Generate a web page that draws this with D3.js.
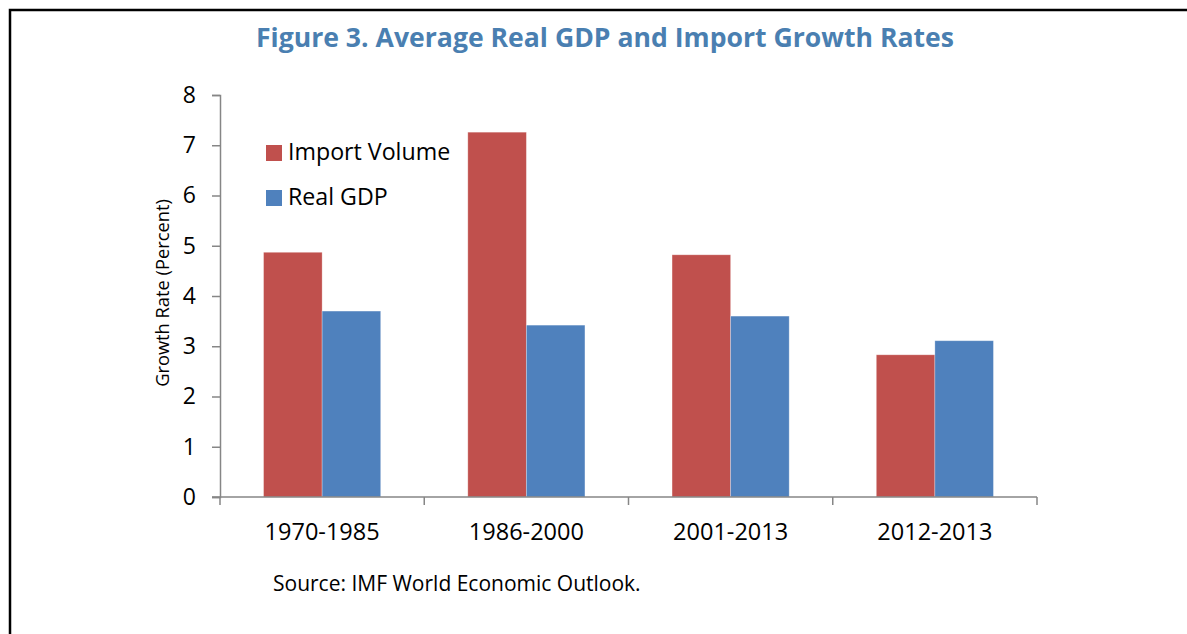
<!DOCTYPE html>
<html>
<head>
<meta charset="utf-8">
<script src="https://d3js.org/d3.v7.min.js"></script>
<style>
  html, body { margin: 0; padding: 0; background: #ffffff; }
  svg { display: block; font-family: "Open Sans", "Noto Sans", sans-serif; }
</style>
</head>
<body>
<svg id="chart" width="1187" height="634"></svg>
<script>
// Average growth rates by period (percent)
const periods = ["1970-1985", "1986-2000", "2001-2013", "2012-2013"];
const importVolume = [4.87, 7.26, 4.82, 2.83];
const realGDP = [3.70, 3.42, 3.60, 3.11];
const seriesNames = ["Import Volume", "Real GDP"];
const seriesColors = ["#c0504d", "#4f81bd"];
const yTicks = [0, 1, 2, 3, 4, 5, 6, 7, 8];

const svg = d3.select("#chart");
const W = 1187, H = 634;

// frame lines (left and top edges)
svg.append("path")
  .attr("d", `M10,${H} L10,10 L${W},10`)
  .attr("fill", "none")
  .attr("stroke", "#000")
  .attr("stroke-width", 2.5);

// title
svg.append("text")
  .attr("x", 605).attr("y", 47)
  .attr("text-anchor", "middle")
  .attr("font-size", 26.6)
  .attr("font-weight", 700)
  .attr("fill", "#4a7fb1")
  .text("Figure 3. Average Real GDP and Import Growth Rates");

const plot = { left: 220, right: 1037, top: 95, bottom: 497 };

const x = d3.scaleBand()
  .domain(periods)
  .range([plot.left, plot.right])
  .padding(0);

const xs = d3.scaleBand()
  .domain(seriesNames)
  .range([0, x.bandwidth()])
  .paddingInner(0)
  .paddingOuter(0.744);

const y = d3.scaleLinear()
  .domain([0, 8])
  .range([plot.bottom, plot.top]);

const rows = periods.map((p, i) => ({
  period: p,
  values: [
    { name: seriesNames[0], value: importVolume[i], color: seriesColors[0] },
    { name: seriesNames[1], value: realGDP[i], color: seriesColors[1] }
  ]
}));

// bars
const groups = svg.append("g").selectAll("g")
  .data(rows).join("g")
  .attr("transform", d => `translate(${x(d.period)},0)`);

groups.selectAll("rect")
  .data(d => d.values).join("rect")
  .attr("x", d => xs(d.name))
  .attr("width", xs.bandwidth())
  .attr("y", d => y(d.value))
  .attr("height", d => y(0) - y(d.value))
  .attr("fill", d => d.color)
  .attr("stroke", "rgba(255,255,255,0.35)")
  .attr("stroke-width", 0.8);

const axisColor = "#868686";

// y axis
const yAxis = svg.append("g")
  .attr("transform", `translate(${plot.left},0)`)
  .call(d3.axisLeft(y).tickValues(yTicks).tickSize(8).tickPadding(16).tickFormat(d3.format("d")));
yAxis.select(".domain").attr("stroke", axisColor).attr("stroke-width", 1.5);
yAxis.selectAll(".tick line").attr("stroke", axisColor).attr("stroke-width", 1.5);
yAxis.selectAll(".tick text")
  .attr("font-size", 23)
  .attr("fill", "#000")
  .attr("font-family", "'Open Sans', sans-serif");

// x axis with ticks on category boundaries
const xAxis = svg.append("g").attr("class", "x-axis");
xAxis.append("line")
  .attr("x1", plot.left - 8).attr("x2", plot.right)
  .attr("y1", y(0)).attr("y2", y(0))
  .attr("stroke", axisColor).attr("stroke-width", 1.5);
const bounds = periods.map(p => x(p)).concat([x(periods[periods.length - 1]) + x.bandwidth()]);
xAxis.selectAll("line.tk")
  .data(bounds).join("line")
  .attr("class", "tk")
  .attr("x1", d => d).attr("x2", d => d)
  .attr("y1", y(0)).attr("y2", y(0) + 8)
  .attr("stroke", axisColor).attr("stroke-width", 1.5);
xAxis.selectAll("text")
  .data(periods).join("text")
  .attr("x", d => x(d) + x.bandwidth() / 2)
  .attr("y", 540)
  .attr("text-anchor", "middle")
  .attr("font-size", 23.5)
  .attr("fill", "#000")
  .text(d => d);

// y axis title
svg.append("text")
  .attr("transform", "translate(168.5,293) rotate(-90)")
  .attr("text-anchor", "middle")
  .attr("font-size", 18.3)
  .attr("fill", "#000")
  .text("Growth Rate (Percent)");

// legend
const legend = svg.append("g").selectAll("g")
  .data(seriesNames).join("g")
  .attr("transform", (d, i) => `translate(266,${145 + i * 45})`);
legend.append("rect")
  .attr("width", 16).attr("height", 16)
  .attr("fill", (d, i) => seriesColors[i]);
legend.append("text")
  .attr("x", 22).attr("y", 15)
  .attr("font-size", 23.2)
  .attr("fill", "#000")
  .text(d => d);

// source note
svg.append("text")
  .attr("x", 273).attr("y", 591)
  .attr("font-size", 21)
  .attr("fill", "#000")
  .text("Source: IMF World Economic Outlook.");
</script>
</body>
</html>
